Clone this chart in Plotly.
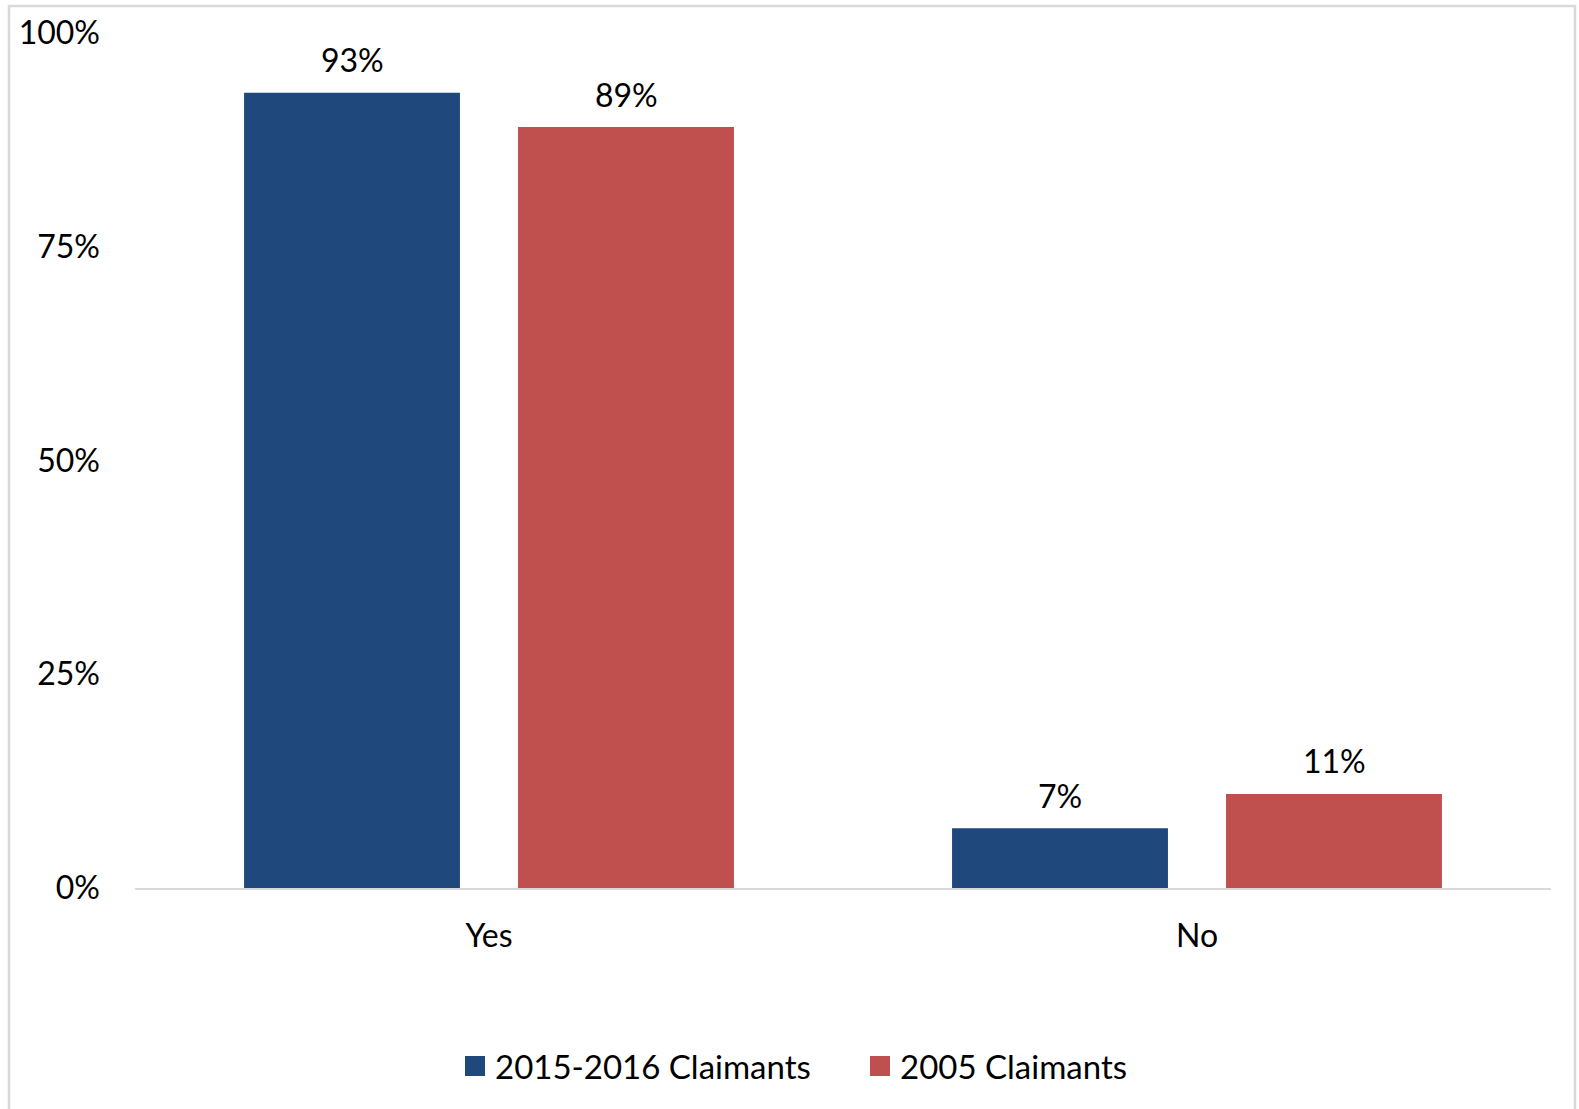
import plotly.graph_objects as go

# Survey responses by claimant cohort (percent)
categories = ["Yes", "No"]
series_names = ["2015-2016 Claimants", "2005 Claimants"]
values_2015_2016 = [93, 7]
values_2005 = [89, 11]
y_tick_values = [0, 25, 50, 75, 100]
y_tick_labels = ["0%", "25%", "50%", "75%", "100%"]

colors = ["#1F497D", "#C0504D"]

W, H = 1579, 1109
m_left, m_right, m_top, m_bottom = 135, 28, 33, 221
plot_w = W - m_left - m_right
plot_h = H - m_top - m_bottom

FONT = "Lato, 'Open Sans', sans-serif"
FS = 32

BARGAP = 0.226
BARGROUPGAP = 0.212

series = [values_2015_2016, values_2005]
n_series = len(series)
slot = (1 - BARGAP) / n_series  # width of one bar slot in category units

fig = go.Figure()
for k, (name, vals, col) in enumerate(zip(series_names, series, colors)):
    fig.add_trace(go.Bar(
        x=categories,
        y=vals,
        name=name,
        showlegend=False,
        marker=dict(color=col, line=dict(width=0)),
        cliponaxis=False,
        hovertemplate="%{x}: %{y}%<extra>" + name + "</extra>",
    ))
    # legend swatch
    fig.add_trace(go.Scatter(
        x=[None], y=[None],
        mode="markers",
        name=name,
        marker=dict(symbol="square", size=16, color=col,
                    line=dict(color=col, width=4)),
        showlegend=True,
    ))
    # value labels above each bar
    offset = (k - (n_series - 1) / 2) * slot
    for i, v in enumerate(vals):
        fig.add_annotation(
            x=i + offset, y=v, xref="x", yref="y",
            text=f"{v}%", showarrow=False,
            yanchor="middle", yshift=33,
            font=dict(family=FONT, size=FS, color="#000000"),
        )


def px_to_paper_x(px):
    return (px - m_left) / plot_w


def px_to_paper_y(py):
    return (H - m_bottom - py) / plot_h


# light grey frame around the chart area
fig.add_shape(
    type="rect", xref="paper", yref="paper",
    x0=px_to_paper_x(9), x1=px_to_paper_x(1575),
    y0=px_to_paper_y(1130), y1=px_to_paper_y(6),
    line=dict(color="#D9D9D9", width=2.5),
    fillcolor="rgba(0,0,0,0)",
    layer="below",
)

fig.update_layout(
    width=W, height=H,
    margin=dict(l=m_left, r=m_right, t=m_top, b=m_bottom, pad=0),
    paper_bgcolor="white",
    plot_bgcolor="white",
    barmode="group",
    bargap=BARGAP,
    bargroupgap=BARGROUPGAP,
    font=dict(family=FONT, size=FS, color="#000000"),
    showlegend=True,
    legend=dict(
        orientation="h",
        x=px_to_paper_x(860), xanchor="center",
        y=px_to_paper_y(1066), yanchor="middle",
        font=dict(family=FONT, size=33, color="#000000"),
        itemwidth=30,
        entrywidth=360,
        tracegroupgap=0,
    ),
    xaxis=dict(
        showline=True, linecolor="#D9D9D9", linewidth=2,
        showgrid=False, zeroline=False, ticks="",
        ticklabelstandoff=19,
        tickfont=dict(family=FONT, size=FS, color="#000000"),
    ),
    yaxis=dict(
        range=[0, 100],
        tickvals=y_tick_values,
        ticktext=y_tick_labels,
        showline=False, showgrid=False, zeroline=False, ticks="",
        ticklabelstandoff=34,
        tickfont=dict(family=FONT, size=FS, color="#000000"),
    ),
)

fig.write_html("out.html")
